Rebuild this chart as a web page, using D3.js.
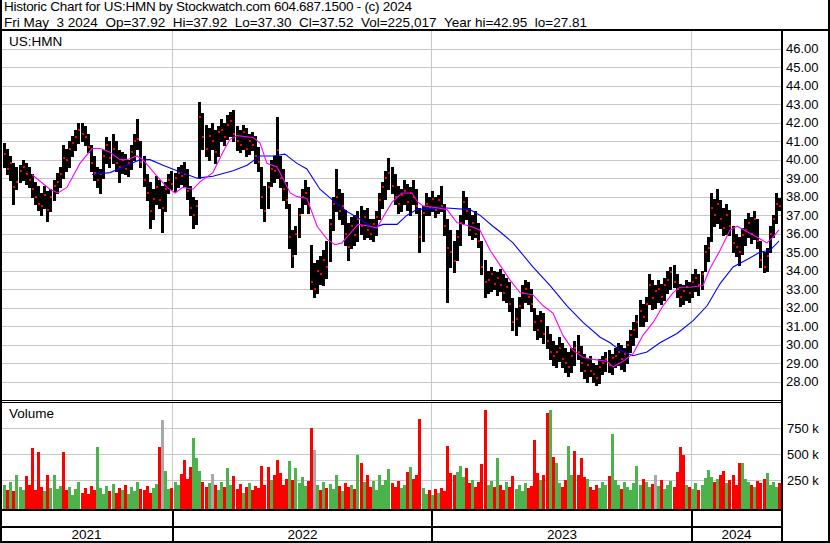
<!DOCTYPE html>
<html><head><meta charset="utf-8">
<script src="https://cdn.jsdelivr.net/npm/d3@7"></script>
<style>
body{margin:0;background:#fff;}
svg{display:block;font-family:"Liberation Sans",Arial,sans-serif;}
</style>
</head><body>
<svg id="c" width="830" height="543"></svg>
<script>
// ---------- DATA (one bar ≈ 3 trading sessions, May 2021 – May 3 2024) ----------
const highs=[40.9,40.6,40.2,39.8,39.6,39.7,40.0,39.8,39.6,39.2,
38.8,38.6,38.2,38.6,38.3,38.4,38.9,39.3,39.6,40.8,
40.6,41.0,41.3,41.6,42.0,42.0,41.8,41.4,40.8,40.2,
39.6,39.5,40.5,41.2,41.0,41.4,41.0,40.5,40.4,40.3,
40.0,40.8,41.4,42.2,41.0,40.2,39.2,38.8,38.4,39.1,
38.9,38.6,38.8,39.2,39.4,39.3,39.6,39.7,39.9,39.5,
38.6,38.0,37.8,43.1,42.5,41.9,41.7,42.0,41.6,41.8,
42.2,42.0,42.4,42.6,42.7,41.8,41.6,41.9,41.7,41.4,
41.5,41.3,40.7,39.6,38.6,38.8,40.0,40.2,42.3,40.2,
39.5,38.8,37.6,36.2,36.4,37.4,38.4,38.9,38.5,35.4,
34.4,34.6,34.8,35.1,35.6,36.8,38.0,39.5,38.4,38.2,
37.3,36.6,36.9,37.0,37.2,37.5,37.3,37.4,36.8,36.8,
37.2,38.2,38.8,39.4,40.1,39.6,39.2,38.6,38.4,38.9,
38.7,38.5,38.9,38.4,37.4,37.5,38.2,38.0,38.3,38.0,
38.1,38.6,37.6,36.8,36.2,35.6,36.2,37.0,38.3,38.0,
37.4,37.0,37.2,36.6,35.6,34.6,34.0,34.2,34.0,33.9,
34.1,33.8,33.6,33.4,32.5,32.0,32.6,33.2,33.5,33.4,
33.0,32.0,31.6,31.8,31.7,31.0,30.6,30.2,30.0,30.4,
30.1,29.8,29.6,29.8,30.2,30.5,29.9,29.5,29.3,29.4,
29.0,28.9,29.2,29.4,29.6,29.7,29.5,29.8,30.1,30.0,
29.8,30.2,30.8,31.2,31.6,32.4,32.2,32.6,33.8,33.5,
33.2,33.5,33.3,33.6,34.0,34.2,34.3,33.8,33.3,33.2,
33.5,33.4,33.8,34.1,33.8,34.0,35.4,35.8,38.2,37.9,
38.4,37.8,37.4,37.6,37.3,36.4,36.0,35.8,36.3,36.8,
37.1,36.9,37.2,36.8,35.6,35.0,35.2,36.4,37.0,38.2,
37.92];
const lows=[39.6,39.2,38.9,37.6,38.4,38.8,38.9,38.7,38.5,38.0,
37.6,37.3,37.0,37.4,36.7,37.2,37.8,38.2,38.5,39.0,
39.4,39.6,40.2,40.5,40.9,41.0,40.8,40.4,39.4,38.9,
38.5,38.2,39.0,39.8,39.6,39.8,39.4,38.8,39.3,39.2,
39.1,39.5,40.0,40.6,39.6,38.6,37.8,36.3,36.8,37.6,
37.4,36.1,37.2,38.2,38.4,38.3,38.5,38.7,38.6,37.9,
37.0,36.3,36.5,39.0,40.6,40.2,40.0,40.6,39.8,40.2,
41.0,40.8,41.1,41.3,41.0,40.5,40.4,40.6,40.2,40.3,
40.5,39.8,39.4,37.4,36.7,37.4,38.6,38.8,39.0,38.5,
37.8,37.4,35.2,34.2,34.9,35.8,37.1,37.6,37.1,33.0,
32.6,32.8,33.3,33.2,33.6,34.5,36.2,37.2,36.8,36.5,
35.4,34.6,35.2,35.4,35.6,36.0,35.7,35.8,35.7,35.6,
35.9,36.8,37.4,37.9,38.4,38.2,37.6,37.1,37.2,37.6,
37.3,37.0,37.6,37.1,35.0,35.6,37.0,37.0,37.2,36.9,
37.1,37.2,35.9,32.3,34.2,33.9,34.6,35.4,36.6,36.8,
35.9,35.7,35.8,35.3,33.8,32.6,32.8,32.9,33.0,32.7,
32.9,32.4,32.3,31.8,30.8,30.5,31.0,32.0,32.3,32.2,
31.8,30.8,30.3,30.4,30.1,29.8,29.2,28.9,28.8,29.1,
28.8,28.5,28.3,28.5,28.9,29.2,28.6,28.2,28.0,28.3,
28.0,27.8,27.9,28.4,28.6,28.5,28.4,28.8,28.9,28.7,
28.6,29.0,29.6,30.0,30.4,31.0,31.0,31.3,32.2,31.9,
32.0,32.3,32.2,32.4,32.8,33.0,33.1,32.6,32.1,32.2,
32.4,32.3,32.6,32.9,32.7,33.0,34.0,34.5,35.6,36.4,
36.6,36.3,35.9,36.0,35.9,35.0,34.8,34.3,34.9,35.4,
35.8,35.5,35.7,35.2,34.2,33.9,34.0,35.0,35.8,36.6,
37.30];
const closes=[40.3,39.5,39.8,38.5,38.8,39.4,39.6,39.2,38.9,38.4,
38.0,37.6,37.5,38.1,37.3,38.0,38.6,38.8,39.2,40.1,
40.0,40.6,40.9,41.2,41.6,41.4,41.2,40.7,39.8,39.3,
38.9,39.2,40.2,40.8,40.1,40.6,39.8,39.6,40.0,39.5,
39.8,40.4,41.0,41.1,39.9,38.9,38.2,37.2,37.9,38.5,
37.8,37.4,38.4,38.9,38.7,39.0,39.3,39.1,39.2,38.3,
37.4,37.0,37.5,42.3,41.2,40.6,41.3,41.0,40.4,41.5,
41.6,41.2,41.9,42.1,41.4,41.0,40.8,41.5,40.6,41.0,
40.8,40.2,39.9,38.0,37.2,38.5,39.5,39.4,40.5,39.0,
38.4,37.8,35.8,34.8,36.0,37.0,38.0,38.2,37.6,33.4,
33.0,34.0,33.8,34.6,34.2,36.5,37.6,38.0,37.2,37.5,
36.0,35.3,36.4,35.9,36.8,36.4,36.9,36.2,36.0,36.5,
36.9,37.8,38.5,39.0,39.3,38.6,38.0,37.6,38.1,38.3,
37.7,38.2,38.0,37.5,35.8,37.1,37.6,37.4,37.9,37.3,
37.8,37.5,36.4,35.2,35.0,34.5,35.8,36.6,37.7,37.2,
36.2,36.6,36.0,35.6,34.2,33.4,33.5,33.8,33.3,33.6,
33.2,32.8,33.1,32.2,31.2,31.4,32.1,32.8,33.0,32.6,
32.2,31.2,30.8,31.3,30.6,30.2,29.6,29.4,29.6,29.8,
29.2,29.0,28.8,29.4,29.8,29.6,29.0,28.6,28.9,28.6,
28.4,28.2,28.8,29.0,29.2,28.9,29.3,29.4,29.6,29.2,
29.5,30.0,30.5,30.8,31.2,31.8,31.5,32.2,33.2,32.5,
32.9,33.0,32.6,33.2,33.5,33.9,33.4,33.0,32.6,32.9,
33.1,32.8,33.4,33.6,33.2,33.8,35.0,35.2,37.4,37.0,
37.6,36.8,36.3,37.0,36.4,35.5,35.3,35.0,35.9,36.2,
36.6,36.0,36.8,35.6,34.6,34.2,34.8,36.0,36.8,37.6,
37.52];
const volumes=[200,150,230,140,300,180,150,290,200,557,
150,525,180,140,300,170,300,160,190,525,
150,180,110,160,230,130,170,120,190,150,
565,170,120,190,140,210,130,175,150,200,
120,180,140,230,160,150,190,130,170,210,
565,830,340,160,175,230,200,305,445,260,
380,655,460,340,230,180,220,310,200,150,
230,180,365,200,290,160,210,130,180,220,
150,190,170,390,200,380,250,300,440,315,
200,260,435,250,365,220,280,190,240,757,
540,200,150,230,170,210,160,300,190,140,
220,180,200,160,493,412,230,300,180,240,
150,300,200,250,357,220,180,240,170,200,
325,380,260,300,840,170,120,150,110,160,
130,170,140,580,320,300,330,385,280,365,
220,250,180,230,410,927,200,240,180,467,
200,150,230,180,290,160,200,140,220,170,
190,637,315,250,300,895,927,477,412,220,
180,250,580,300,530,300,467,280,260,180,
150,200,170,230,200,290,692,250,200,160,
230,180,150,220,385,200,260,230,180,210,
300,190,250,160,200,240,180,325,573,493,
200,180,160,220,150,200,270,348,280,230,
260,300,338,220,250,300,200,412,412,260,
230,200,180,240,220,260,315,200,230,180,
225.017]; // thousands of shares
// volume colour for bars whose direction is read directly from the picture
const volDirRead={9:"d",11:"d",19:"d",30:"u",50:"d",51:"n",58:"d",61:"u",67:"n",83:"d",85:"d",88:"d",92:"u",
  99:"d",100:"n",114:"u",115:"d",134:"d",143:"d",155:"d",159:"u",171:"d",175:"d",176:"u",182:"u",184:"d",
  186:"d",196:"u",210:"n",218:"d",219:"d",250:"d"};
// moving averages: [bar index, value]
const maShort=[[9,39.2],[14.8,38.4],[17.4,38.2],[20.3,38.5],[24.5,39.8],[28.4,40.6],[31,40.6],[34.2,40.4],[37.4,40.0],
[39.7,40.0],[42.9,40.2],[44.8,40.0],[49.4,39.1],[52.6,38.5],[55.2,38.2],[57.7,38.5],[61,38.4],[63.2,38.8],[67.4,39.3],
[70.6,40.4],[72.9,41.1],[75.2,41.3],[80.3,41.2],[82.6,40.9],[84.8,39.8],[88.1,39.6],[92.3,38.2],[94.5,38.0],[97.7,37.9],
[101,36.4],[104.2,35.7],[106.8,35.4],[109,35.5],[111.6,36.0],[114.2,36.5],[118.1,36.4],[120.3,36.3],[122.3,36.9],
[125.2,37.7],[128.4,38.2],[131.6,38.2],[133.5,37.7],[135.2,37.5],[139.7,37.4],[142.9,37.3],[146.1,36.6],[150.3,36.4],
[153.5,36.2],[156.8,35.1],[160,34.3],[163.2,33.5],[166.5,32.8],[170.6,32.7],[173.9,32.1],[177.1,31.7],[180.3,30.5],
[183.5,29.7],[186.8,29.3],[190,29.2],[194.5,29.1],[196.5,28.8],[199.7,29.1],[202.9,29.5],[206.1,30.5],[209.4,31.2],
[212.6,32.1],[215.8,32.8],[218,33.1],[221.3,33.1],[225.5,33.2],[227.7,34.1],[231,35.1],[234.2,36.2],[236.5,36.4],
[239.7,36.1],[243,35.8],[246.1,35.5],[248,35.8],[250,36.2]];
const maLong=[[28.4,39.2],[34.2,39.3],[39.7,39.7],[43.9,40.0],[47.1,40.0],[51.3,39.7],[55.8,39.4],[62.3,39.0],[67.4,39.1],
[73.9,39.4],[78.4,39.7],[82.6,40.2],[86.8,40.2],[90.6,40.3],[94.5,39.8],[97.7,39.5],[101.9,38.4],[106.1,37.8],
[110.6,37.2],[114.8,36.8],[119,36.3],[122.3,36.5],[126.8,36.5],[130,37.0],[133.2,37.3],[141.6,37.4],[150.3,37.3],
[153.5,37.0],[157.7,36.4],[160,36.1],[164.2,35.5],[170.6,34.2],[176.1,33.2],[181.6,32.1],[186.8,31.2],[192.3,30.4],
[195.5,30.1],[198.7,29.7],[202.9,29.4],[207.4,29.6],[211.6,30.1],[217.1,30.6],[222.3,31.3],[226.8,32.1],[231,33.3],
[235.2,34.2],[239.7,34.6],[243.9,35.0],[247.1,35.1],[250,35.6]];
const priceTicks=[28,29,30,31,32,33,34,35,36,37,38,39,40,41,42,43,44,45,46];
const volTicks=[250,500,750];
const volTickLabels=["250 k","500 k","750 k"];
const years=["2021","2022","2023","2024"];
const yearStart=[null,54.2,137.6,221.5]; // bar index where each year begins (2021 starts before the chart)
const header1="Historic Chart for US:HMN by Stockwatch.com 604.687.1500 - (c) 2024";
const header2="Fri May  3 2024  Op=37.92  Hi=37.92  Lo=37.30  Cl=37.52  Vol=225,017  Year hi=42.95  lo=27.81";

// ---------- DRAWING ----------
const svg=d3.select("#c");
const PX0=2, PX1=781;               // panel x extent
const PY0=31, PY1=400;              // price panel
const VY0=403, VY1=509;             // volume panel
const x=d3.scaleLinear().domain([0,250]).range([4,779]);
const y=d3.scaleLinear().domain([28,46]).range([381.6,48.7]);
const yv=d3.scaleLinear().domain([0,750]).range([506,428.3]);
const grid="#c8c8c8";

svg.append("rect").attr("width",830).attr("height",543).attr("fill","#fff");

const g=svg.append("g").attr("shape-rendering","crispEdges");
g.selectAll("line.pg").data(priceTicks).join("line")
  .attr("x1",PX0).attr("x2",PX1)
  .attr("y1",d=>Math.round(y(d))+0.5).attr("y2",d=>Math.round(y(d))+0.5)
  .attr("stroke",grid);
g.selectAll("line.vg").data(volTicks).join("line")
  .attr("x1",PX0).attr("x2",PX1)
  .attr("y1",d=>Math.round(yv(d))+0.5).attr("y2",d=>Math.round(yv(d))+0.5)
  .attr("stroke",grid);
const ys=yearStart.filter(d=>d!==null);
ys.forEach(v=>{
  const xx=Math.round(x(v))+0.5;
  g.append("line").attr("x1",xx).attr("x2",xx).attr("y1",PY0).attr("y2",PY1).attr("stroke",grid);
  g.append("line").attr("x1",xx).attr("x2",xx).attr("y1",VY0).attr("y2",VY1).attr("stroke",grid);
});

// volume bars
const dirOf=i=>volDirRead[i]!==undefined?volDirRead[i]:
  (i===0?"u":closes[i]>closes[i-1]?"u":closes[i]<closes[i-1]?"d":"n");
const vcol={u:"#4cb34c",d:"#ff0000",n:"#a8a8a8"};
g.selectAll("rect.vol").data(volumes).join("rect")
  .attr("x",(d,i)=>Math.round(x(i))-1).attr("width",3)
  .attr("y",d=>Math.round(yv(d))).attr("height",d=>VY1-Math.round(yv(d)))
  .attr("fill",(d,i)=>vcol[dirOf(i)]);

// price bars with close ticks
const pb=svg.append("g").attr("shape-rendering","crispEdges");
highs.forEach((h,i)=>{
  const xx=Math.round(x(i));
  const yh=Math.round(y(h)), yl=Math.round(y(lows[i]));
  pb.append("rect").attr("x",xx-1).attr("width",3).attr("y",yh).attr("height",Math.max(1,yl-yh+1)).attr("fill","#000");
  pb.append("rect").attr("x",xx).attr("width",2).attr("y",Math.round(y(closes[i]))-1).attr("height",2).attr("fill","#ff0000");
});

// moving averages
const line=d3.line().x(d=>x(d[0])).y(d=>y(d[1]));
svg.append("path").attr("d",line(maLong)).attr("fill","none").attr("stroke","#0000ff").attr("stroke-width",1.1);
svg.append("path").attr("d",line(maShort)).attr("fill","none").attr("stroke","#ff00ff").attr("stroke-width",1.1);

// frame
const f=svg.append("g").attr("shape-rendering","crispEdges").attr("fill","#000");
f.append("rect").attr("x",0).attr("y",0).attr("width",2).attr("height",543);
f.append("rect").attr("x",828).attr("y",0).attr("width",2).attr("height",543);
f.append("rect").attr("x",0).attr("y",541).attr("width",830).attr("height",2);
f.append("rect").attr("x",0).attr("y",29).attr("width",830).attr("height",2);
f.append("rect").attr("x",PX1).attr("y",31).attr("width",2).attr("height",512);
f.append("rect").attr("x",0).attr("y",400).attr("width",PX1).attr("height",1);
f.append("rect").attr("x",0).attr("y",402).attr("width",PX1).attr("height",1);
f.append("rect").attr("x",0).attr("y",509).attr("width",PX1).attr("height",2);
f.append("rect").attr("x",0).attr("y",526).attr("width",PX1).attr("height",2);
ys.forEach(v=>{
  f.append("rect").attr("x",Math.round(x(v))).attr("y",509).attr("width",2).attr("height",33);
});

// texts
const nb=s=>s.replace(/ /g,"\u00a0");
const T=svg.append("g").attr("font-size",13).attr("fill","#000");
T.append("text").attr("x",4).attr("y",11).attr("font-size",13.5)
  .attr("textLength",408).attr("lengthAdjust","spacing").text(nb(header1));
T.append("text").attr("x",4).attr("y",27).attr("font-size",13.5)
  .attr("textLength",583).attr("lengthAdjust","spacing").text(nb(header2));
T.append("text").attr("x",9).attr("y",46).attr("font-size",13.5).text("US:HMN");
T.append("text").attr("x",9).attr("y",418).attr("font-size",13.5).text("Volume");
T.selectAll("text.pl").data(priceTicks).join("text")
  .attr("x",786).attr("y",d=>y(d)+4.5).text(d=>d.toFixed(2));
T.selectAll("text.vl").data(volTicks).join("text")
  .attr("x",787).attr("y",d=>yv(d)+4.5).text((d,i)=>nb(volTickLabels[i]));
const bounds=[0,...ys.map(v=>Math.round(x(v))+1),PX1];
years.forEach((lab,i)=>{
  T.append("text").attr("x",(bounds[i]+bounds[i+1])/2).attr("y",539).attr("font-size",13.5)
    .attr("text-anchor","middle").text(lab);
});
</script>
</body></html>
